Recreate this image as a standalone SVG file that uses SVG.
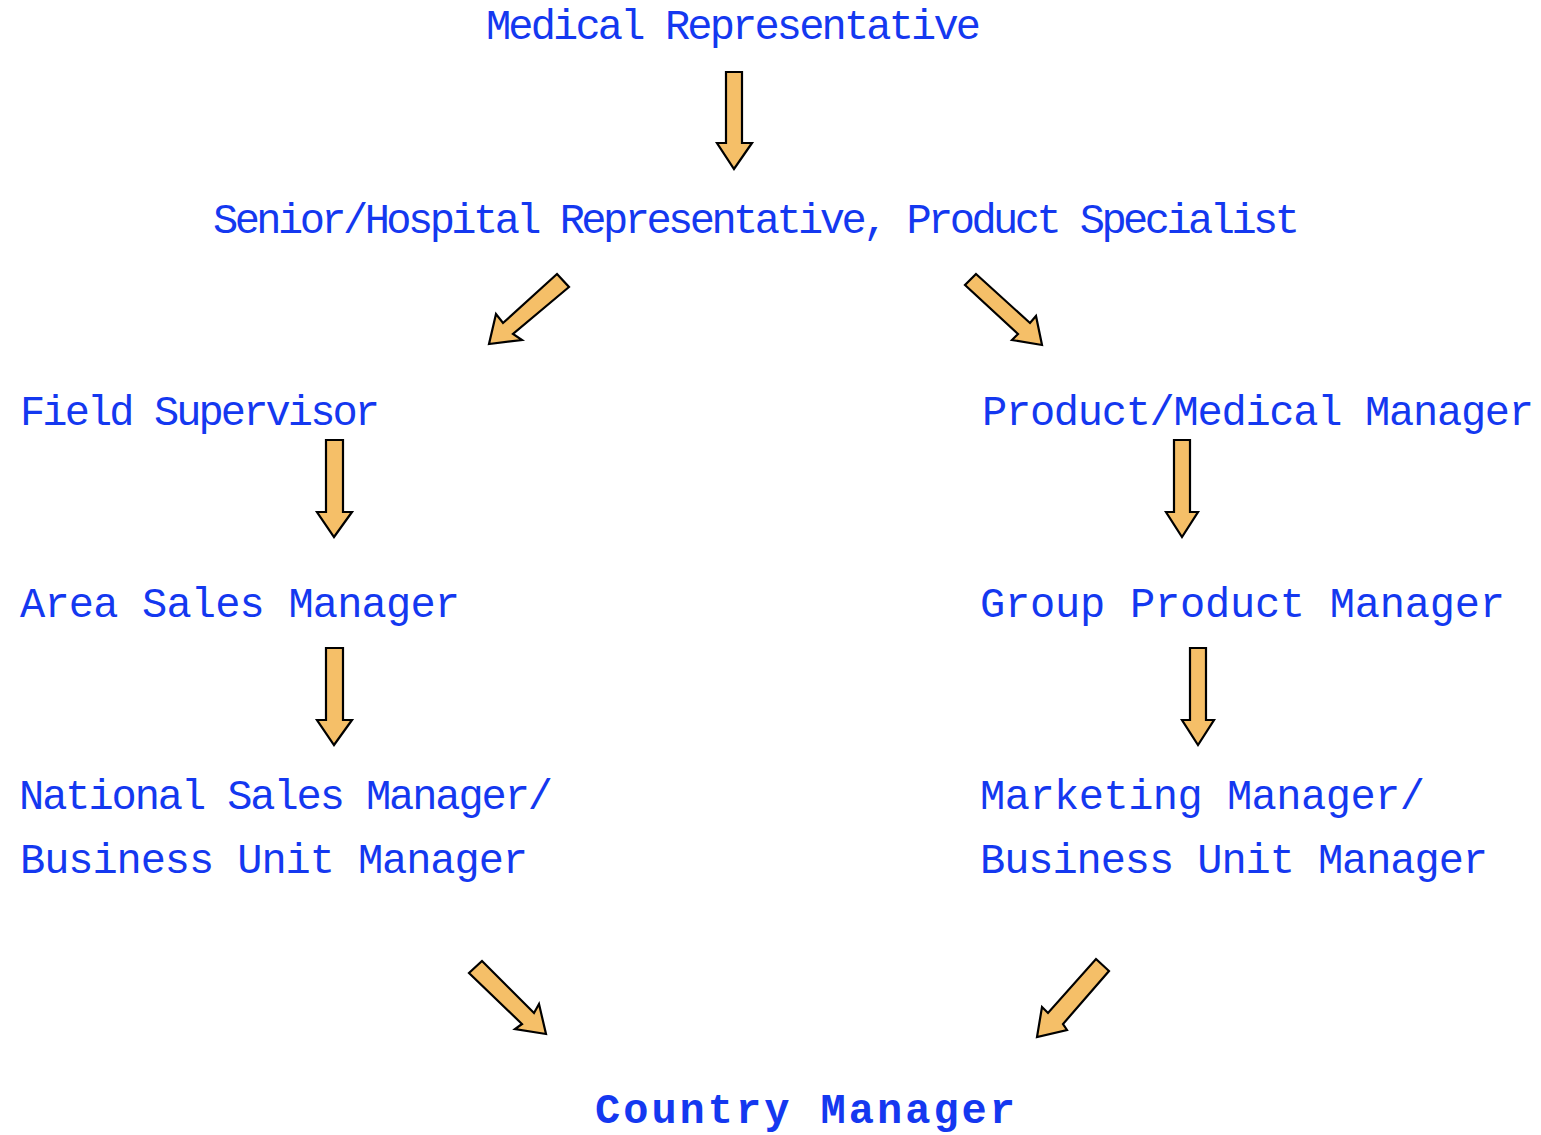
<svg xmlns="http://www.w3.org/2000/svg" width="1541" height="1135" viewBox="0 0 1541 1135">
<style>
  .t { font-family: "Liberation Mono", "Courier New", monospace; font-size: 42px; fill: #1438F0; }
  .b { font-weight: bold; }
  .arr { fill: #F5BF68; stroke: #000; stroke-width: 2.2; stroke-linejoin: miter; }
</style>
<rect width="1541" height="1135" fill="#fff"/>
<g id="n-medrep"><text class="t" x="486" y="39" textLength="495" lengthAdjust="spacing">Medical Representative</text></g>
<g id="n-senior"><text class="t" x="213" y="233" textLength="1087" lengthAdjust="spacing">Senior/Hospital Representative, Product Specialist</text></g>
<g id="n-field"><text class="t" x="20" y="425" textLength="360" lengthAdjust="spacing">Field Supervisor</text></g>
<g id="n-prodmed"><text class="t" x="982" y="425" textLength="552" lengthAdjust="spacing">Product/Medical Manager</text></g>
<g id="n-area"><text class="t" x="20" y="617" textLength="440" lengthAdjust="spacing">Area Sales Manager</text></g>
<g id="n-group"><text class="t" x="980" y="617" textLength="525" lengthAdjust="spacing">Group Product Manager</text></g>
<g id="n-national"><text class="t" x="19" y="809" textLength="534" lengthAdjust="spacing">National Sales Manager/</text><text class="t" x="20" y="873" textLength="508" lengthAdjust="spacing">Business Unit Manager</text></g>
<g id="n-marketing"><text class="t" x="980" y="809" textLength="445" lengthAdjust="spacing">Marketing Manager/</text><text class="t" x="980" y="873" textLength="508" lengthAdjust="spacing">Business Unit Manager</text></g>
<g id="n-country"><text class="t b" x="595" y="1123" textLength="420" lengthAdjust="spacing">Country Manager</text></g>
<g id="connectors">
  <polygon class="arr" points="726,72 742,72 742,143 752,143 734,169 717,143 726,143"/>
  <polygon class="arr" points="557,274 569,287 513,334 522,340 489,344 496,314 503,323"/>
  <polygon class="arr" points="976,274 1030,323 1036,316 1042,345 1012,340 1018,334 965,285"/>
  <polygon class="arr" points="326,440 343,440 343,512 352,512 334,537 317,512 326,512"/>
  <polygon class="arr" points="1174,440 1190,440 1190,512 1198,512 1182,537 1166,512 1174,512"/>
  <polygon class="arr" points="326,648 343,648 343,720 352,720 334,745 317,720 326,720"/>
  <polygon class="arr" points="1190,648 1206,648 1206,720 1214,720 1198,745 1182,720 1190,720"/>
  <polygon class="arr" points="482,961 534,1013 539,1004 546,1034 515,1029 522,1024 469,973"/>
  <polygon class="arr" points="1096,959 1109,971 1063,1024 1067,1030 1037,1037 1042,1007 1048,1013"/>
</g>
</svg>
